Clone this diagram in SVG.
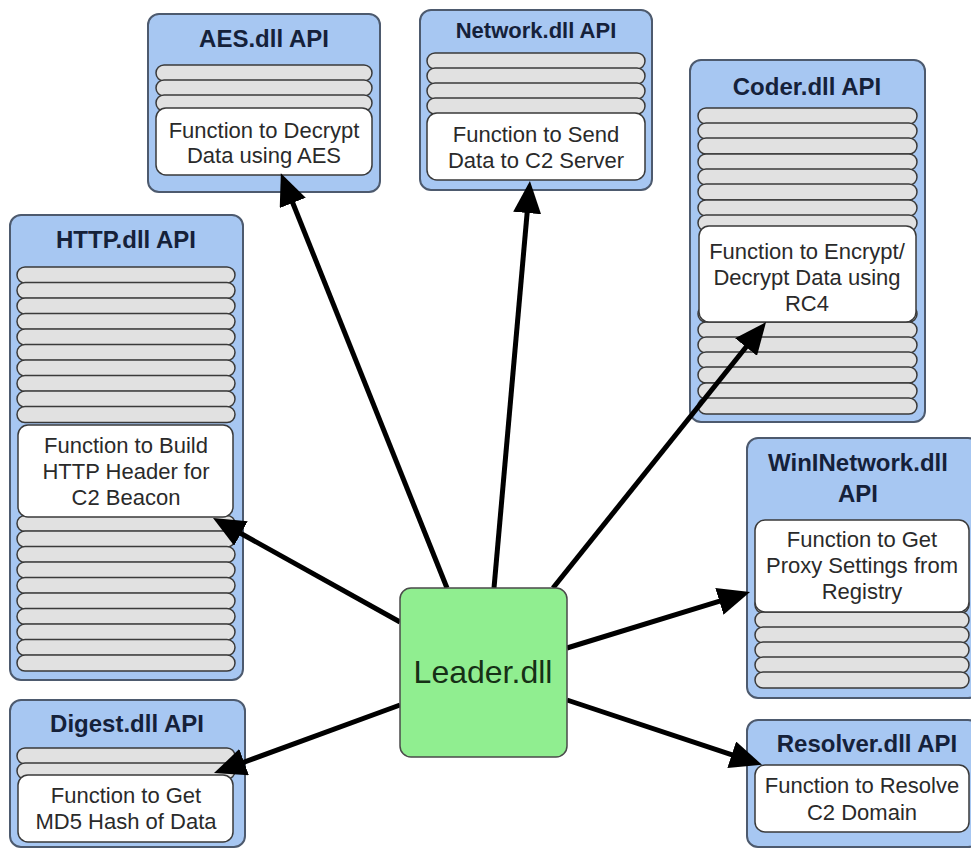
<svg xmlns="http://www.w3.org/2000/svg" width="971" height="849" viewBox="0 0 971 849">
<defs>
<style>
.outer{fill:#a7c7f2;stroke:#4d5a6e;stroke-width:2}
.st{fill:#e1e1e1;stroke:#3a3a3a;stroke-width:1.5}
.fn{fill:#ffffff;stroke:#3a3a3a;stroke-width:1.5}
.ttl{font-family:"Liberation Sans",Arial,sans-serif;font-weight:bold;font-size:24px;fill:#15213a;text-anchor:middle}
.txt{font-family:"Liberation Sans",Arial,sans-serif;font-size:22px;fill:#2a2a2a;text-anchor:middle}
.conn{stroke:#000;stroke-width:5;fill:none;marker-end:url(#ah)}
</style>
<marker id="ah" markerUnits="userSpaceOnUse" markerWidth="32" markerHeight="28" viewBox="0 0 32 28" refX="2" refY="14" orient="auto">
<path d="M0,0 L32,14 L0,28 z" fill="#000"/>
</marker>
</defs>
<rect width="971" height="849" fill="#ffffff"/>

<g id="aes">
<rect class="outer" x="148" y="14" width="232" height="178" rx="11"/>
<text class="ttl" x="264" y="47">AES.dll API</text>
<rect class="st" x="156" y="65" width="216" height="16" rx="8"/>
<rect class="st" x="156" y="80" width="216" height="16" rx="8"/>
<rect class="st" x="156" y="95" width="216" height="16" rx="8"/>
<rect class="fn" x="156" y="108" width="216" height="67" rx="10"/>
<text class="txt" x="264" y="138">Function to Decrypt</text>
<text class="txt" x="264" y="163">Data using AES</text>
</g>

<g id="network">
<rect class="outer" x="420" y="10" width="232" height="180" rx="11"/>
<text class="ttl" x="536" y="38" style="font-size:22px">Network.dll API</text>
<rect class="st" x="427" y="53" width="218" height="16" rx="8"/>
<rect class="st" x="427" y="68" width="218" height="16" rx="8"/>
<rect class="st" x="427" y="83" width="218" height="16" rx="8"/>
<rect class="st" x="427" y="98" width="218" height="16" rx="8"/>
<rect class="fn" x="427" y="113" width="218" height="67" rx="10"/>
<text class="txt" x="536" y="142">Function to Send</text>
<text class="txt" x="536" y="168">Data to C2 Server</text>
</g>

<g id="coder">
<rect class="outer" x="690" y="60" width="235" height="362" rx="11"/>
<text class="ttl" x="807" y="95">Coder.dll API</text>
<rect class="st" x="698" y="108" width="219" height="16" rx="8"/>
<rect class="st" x="698" y="123" width="219" height="16" rx="8"/>
<rect class="st" x="698" y="138" width="219" height="16" rx="8"/>
<rect class="st" x="698" y="154" width="219" height="16" rx="8"/>
<rect class="st" x="698" y="169" width="219" height="16" rx="8"/>
<rect class="st" x="698" y="184" width="219" height="16" rx="8"/>
<rect class="st" x="698" y="200" width="219" height="16" rx="8"/>
<rect class="st" x="698" y="215" width="219" height="16" rx="8"/>
<rect class="st" x="698" y="306" width="219" height="16" rx="8"/>
<rect class="st" x="698" y="322" width="219" height="16" rx="8"/>
<rect class="st" x="698" y="337" width="219" height="16" rx="8"/>
<rect class="st" x="698" y="352" width="219" height="16" rx="8"/>
<rect class="st" x="698" y="367" width="219" height="16" rx="8"/>
<rect class="st" x="698" y="383" width="219" height="16" rx="8"/>
<rect class="st" x="698" y="398" width="219" height="16" rx="8"/>
<rect class="fn" x="699" y="226" width="217" height="96" rx="10"/>
<text class="txt" x="807" y="259">Function to Encrypt/</text>
<text class="txt" x="807" y="285">Decrypt Data using</text>
<text class="txt" x="807" y="311">RC4</text>
</g>

<g id="http">
<rect class="outer" x="10" y="215" width="233" height="465" rx="11"/>
<text class="ttl" x="126" y="248">HTTP.dll API</text>
<rect class="st" x="17" y="267" width="218" height="16" rx="8"/>
<rect class="st" x="17" y="282.5" width="218" height="16" rx="8"/>
<rect class="st" x="17" y="298" width="218" height="16" rx="8"/>
<rect class="st" x="17" y="313.5" width="218" height="16" rx="8"/>
<rect class="st" x="17" y="329" width="218" height="16" rx="8"/>
<rect class="st" x="17" y="344.5" width="218" height="16" rx="8"/>
<rect class="st" x="17" y="360" width="218" height="16" rx="8"/>
<rect class="st" x="17" y="375.5" width="218" height="16" rx="8"/>
<rect class="st" x="17" y="391" width="218" height="16" rx="8"/>
<rect class="st" x="17" y="406.5" width="218" height="16" rx="8"/>
<rect class="st" x="17" y="515.5" width="218" height="16" rx="8"/>
<rect class="st" x="17" y="531" width="218" height="16" rx="8"/>
<rect class="st" x="17" y="546.5" width="218" height="16" rx="8"/>
<rect class="st" x="17" y="562" width="218" height="16" rx="8"/>
<rect class="st" x="17" y="577.5" width="218" height="16" rx="8"/>
<rect class="st" x="17" y="593" width="218" height="16" rx="8"/>
<rect class="st" x="17" y="608.5" width="218" height="16" rx="8"/>
<rect class="st" x="17" y="624" width="218" height="16" rx="8"/>
<rect class="st" x="17" y="639.5" width="218" height="16" rx="8"/>
<rect class="st" x="17" y="655" width="218" height="16" rx="8"/>
<rect class="fn" x="18" y="425" width="215" height="92" rx="10"/>
<text class="txt" x="126" y="453">Function to Build</text>
<text class="txt" x="126" y="479">HTTP Header for</text>
<text class="txt" x="126" y="505">C2 Beacon</text>
</g>

<g id="wininetwork">
<rect class="outer" x="747" y="438" width="232" height="260" rx="11"/>
<text class="ttl" x="858" y="471">WinINetwork.dll</text>
<text class="ttl" x="858" y="502">API</text>
<rect class="st" x="755" y="597" width="214" height="16" rx="8"/>
<rect class="st" x="755" y="612" width="214" height="16" rx="8"/>
<rect class="st" x="755" y="627" width="214" height="16" rx="8"/>
<rect class="st" x="755" y="642" width="214" height="16" rx="8"/>
<rect class="st" x="755" y="657" width="214" height="16" rx="8"/>
<rect class="st" x="755" y="672" width="214" height="16" rx="8"/>
<rect class="fn" x="755" y="520" width="214" height="92" rx="10"/>
<text class="txt" x="862" y="547">Function to Get</text>
<text class="txt" x="862" y="573">Proxy Settings from</text>
<text class="txt" x="862" y="599">Registry</text>
</g>

<g id="digest">
<rect class="outer" x="10" y="700" width="235" height="147" rx="11"/>
<text class="ttl" x="127" y="732">Digest.dll API</text>
<rect class="st" x="17" y="748" width="218" height="16" rx="8"/>
<rect class="st" x="17" y="763" width="218" height="16" rx="8"/>
<rect class="fn" x="18" y="775" width="215" height="67" rx="10"/>
<text class="txt" x="126" y="803">Function to Get</text>
<text class="txt" x="126" y="829">MD5 Hash of Data</text>
</g>

<g id="resolver">
<rect class="outer" x="747" y="720" width="232" height="127" rx="11"/>
<text class="ttl" x="867" y="752">Resolver.dll API</text>
<rect class="fn" x="755" y="765" width="214" height="67" rx="10"/>
<text class="txt" x="862" y="793">Function to Resolve</text>
<text class="txt" x="862" y="820">C2 Domain</text>
</g>

<g id="connectors">
<line class="conn" x1="447" y1="588" x2="292" y2="201"/>
<line class="conn" x1="494" y1="588" x2="527.3" y2="211"/>
<line class="conn" x1="553" y1="588" x2="747.3" y2="345.5"/>
<line class="conn" x1="400" y1="622" x2="239.2" y2="532.5"/>
<line class="conn" x1="400" y1="705" x2="242.2" y2="762.8"/>
<line class="conn" x1="567" y1="648" x2="721.3" y2="600.7"/>
<line class="conn" x1="567" y1="700" x2="733.6" y2="755.4"/>
</g>

<g id="leader">
<rect x="400" y="588" width="167" height="169" rx="11" fill="#90ee90" stroke="#4a4a4a" stroke-width="1.5"/>
<text x="483" y="683" font-family="'Liberation Sans',Arial,sans-serif" font-size="32" fill="#163016" text-anchor="middle">Leader.dll</text>
</g>
</svg>
